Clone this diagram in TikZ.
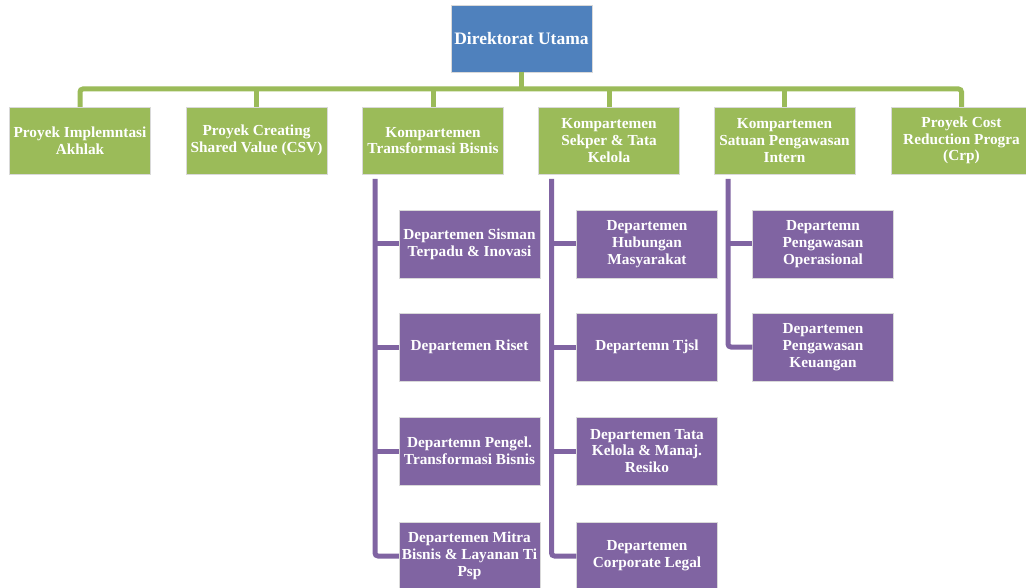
\documentclass[tikz,border=0pt]{standalone}
\usepackage{fontspec}
\setmainfont{Liberation Serif}
\definecolor{topblue}{HTML}{4F81BD}
\definecolor{kgreen}{HTML}{9BBB59}
\definecolor{dpurple}{HTML}{8064A2}
\begin{document}
\begin{tikzpicture}[x=1pt,y=-1pt,
  box/.style={minimum width=141pt, minimum height=68pt, inner sep=1pt, align=center,
    text=white, font=\bfseries\fontsize{15.3}{16.7}\selectfont, draw=white!85!black, line width=0.4pt},
  topbox/.style={box, fill=topblue, minimum height=67pt, font=\bfseries\fontsize{17.5}{19}\selectfont},
  unit/.style={box, fill=kgreen, minimum height=67pt},
  dept/.style={box, fill=dpurple},
  gline/.style={kgreen, line width=5pt, rounded corners=3pt},
  pline/.style={dpurple, line width=5pt, rounded corners=3pt}]

\clip (0,0) rectangle (1026,588);
\fill[white] (0,0) rectangle (1026,588);

% board of directors
\node[topbox] (top) at (521.5,38.5) {Direktorat Utama};

% compartments and projects
\node[unit] (k1) at (80,140.5)    {Proyek Implemntasi\\Akhlak};
\node[unit] (k2) at (256.5,140.5) {Proyek Creating\\Shared Value (CSV)};
\node[unit] (k3) at (433,140.5)   {Kompartemen\\Transformasi Bisnis};
\node[unit] (k4) at (609,140.5)   {Kompartemen\\Sekper \& Tata\\Kelola};
\node[unit] (k5) at (784.5,140.5) {Kompartemen\\Satuan Pengawasan\\Intern};
\node[unit] (k6) at (961.5,140.5) {Proyek Cost\\Reduction Progra\\(Crp)};

% departments
\node[dept] (d11) at (469.5,244) {Departemen Sisman\\Terpadu \& Inovasi};
\node[dept] (d12) at (469.5,347) {Departemen Riset};
\node[dept] (d13) at (469.5,451) {Departemn Pengel.\\Transformasi Bisnis};
\node[dept] (d14) at (469.5,556) {Departemen Mitra\\Bisnis \& Layanan Ti\\Psp};

\node[dept] (d21) at (647,244) {Departemen\\Hubungan\\Masyarakat};
\node[dept] (d22) at (647,347) {Departemn Tjsl};
\node[dept] (d23) at (647,451) {Departemen Tata\\Kelola \& Manaj.\\Resiko};
\node[dept] (d24) at (647,556) {Departemen\\Corporate Legal};

\node[dept] (d31) at (823,244) {Departemn\\Pengawasan\\Operasional};
\node[dept] (d32) at (823,347) {Departemen\\Pengawasan\\Keuangan};

% green bus
\coordinate (bus) at (0,89);
\draw[gline] (k1.north) |- (bus -| k6.north) -- (k6.north);
\draw[gline] (top.south) -- (top.south |- bus);
\foreach \k in {k2,k3,k4,k5}
  \draw[gline] (\k.north) -- (\k.north |- bus);

% purple spines
\coordinate (s1) at (375,179);
\coordinate (s2) at (551.5,179);
\coordinate (s3) at (728,179);
\draw[pline] (s1) |- (d14.west);
\draw[pline] (s2) |- (d24.west);
\draw[pline] (s3) |- (d32.west);
\foreach \d in {d11,d12,d13}
  \draw[pline] (s1 |- \d.west) -- (\d.west);
\foreach \d in {d21,d22,d23}
  \draw[pline] (s2 |- \d.west) -- (\d.west);
\draw[pline] (s3 |- d31.west) -- (d31.west);
\end{tikzpicture}
\end{document}
